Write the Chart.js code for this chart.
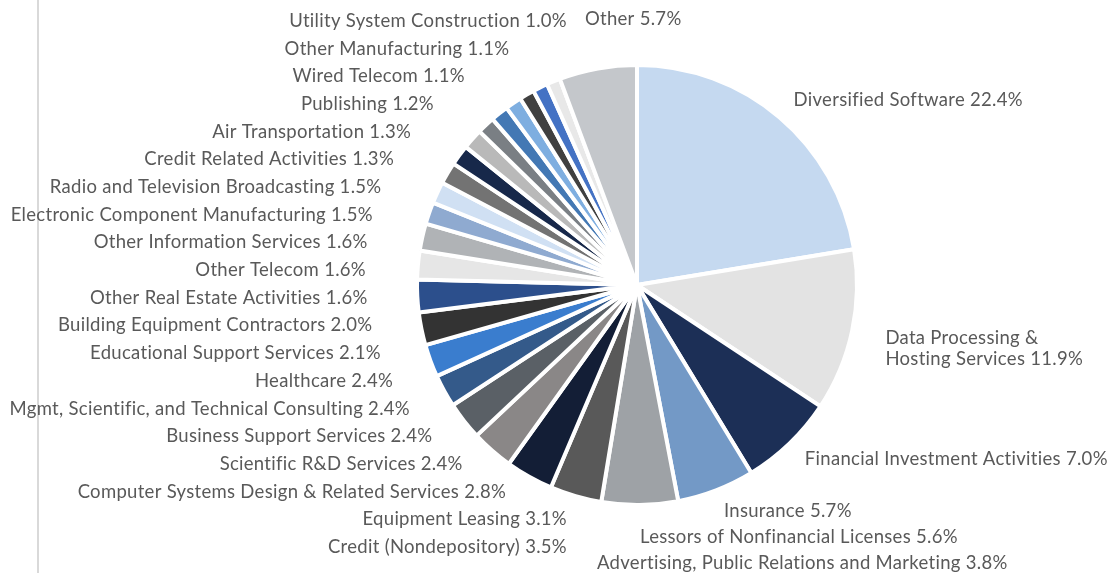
<!DOCTYPE html>
<html>
<head>
<meta charset="utf-8">
<title>Industry mix</title>
<script src="https://cdn.jsdelivr.net/npm/chart.js@4"></script>
<style>
  html, body { margin: 0; padding: 0; background: #fff; }
  #wrap { width: 1111px; height: 573px; }
</style>
</head>
<body>
<div id="wrap"><canvas id="pie" width="1111" height="573"></canvas></div>
<script>
// slices, clockwise from 12 o'clock
const categories = [
  "Diversified Software",
  ["Data Processing &", "Hosting Services"],
  "Financial Investment Activities",
  "Insurance",
  "Lessors of Nonfinancial Licenses",
  "Advertising, Public Relations and Marketing",
  "Credit (Nondepository)",
  "Equipment Leasing",
  "Computer Systems Design & Related Services",
  "Scientific R&D Services",
  "Business Support Services",
  "Mgmt, Scientific, and Technical Consulting",
  "Healthcare",
  "Educational Support Services",
  "Building Equipment Contractors",
  "Other Real Estate Activities",
  "Other Telecom",
  "Other Information Services",
  "Electronic Component Manufacturing",
  "Radio and Television Broadcasting",
  "Credit Related Activities",
  "Air Transportation",
  "Publishing",
  "Wired Telecom",
  "Other Manufacturing",
  "Utility System Construction",
  "Other",
];

const shares = [
  22.4, 11.9, 7.0, 5.7, 5.6, 3.8, 3.5, 3.1, 2.8, 2.4, 2.4, 2.4, 2.4,
  2.1, 2.0, 1.6, 1.6, 1.6, 1.5, 1.5, 1.3, 1.3, 1.2, 1.1, 1.1, 1.0, 5.7,
];

const sliceColors = [
  "#c5d9f0", "#e3e3e3", "#1c2f56", "#7399c6", "#9ea2a6", "#595959",
  "#131e36", "#8a8787", "#5a6066", "#345a8a", "#3a7dce", "#333333",
  "#2c4f8c", "#e6e6e6", "#b0b3b6", "#8faad0", "#d0e0f3", "#737373",
  "#17284a", "#b9b9b9", "#7a7f84", "#4378b4", "#7eaee0", "#404040",
  "#4472c4", "#e8e8e8", "#c4c7cb",
];

const textColor = "#595959";
const labelFont = "18.5px Lato";

const labelText = (i) => {
  const lines = Array.isArray(categories[i]) ? [...categories[i]] : [categories[i]];
  lines[lines.length - 1] += " " + shares[i].toFixed(1) + "%";
  return lines;
};

const sliceLabels = {
  id: "sliceLabels",
  beforeDraw(chart) {
    const ctx = chart.ctx;
    ctx.save();
    ctx.fillStyle = "#d9d9d9";
    ctx.fillRect(37, 0, 2, chart.height);
    ctx.restore();
  },
  afterDraw(chart) {
    const ctx = chart.ctx;
    const arcs = chart.getDatasetMeta(0).data;
    if (!arcs.length) return;
    const cx = arcs[0].x;
    const cy = arcs[0].y;
    const R = arcs[0].outerRadius;
    const lineH = 21;

    const items = arcs.map((arc, i) => {
      const mid = (arc.startAngle + arc.endAngle) / 2;
      const deg = (((mid + Math.PI / 2) * 180) / Math.PI + 360) % 360;
      return { mid, deg, lines: labelText(i) };
    });

    ctx.save();
    ctx.font = labelFont;
    ctx.letterSpacing = "0.3px";
    ctx.fillStyle = textColor;
    ctx.textBaseline = "middle";

    // y is the middle of the first line
    const drawLines = (it, x, y, align) => {
      ctx.textAlign = align;
      it.lines.forEach((ln, k) => ctx.fillText(ln, x, y + k * lineH));
    };

    // left column: evenly spaced, right edge on an ellipse round the pie
    const yTop = 21;
    const yBot = chart.height - 26;
    const left = items.filter((it) => it.deg > 200 && it.deg < 345).sort((a, b) => b.deg - a.deg);
    const step = left.length > 1 ? (yBot - yTop) / (left.length - 1) : 0;
    const rx = R + 51;
    const ry = R + 32;
    const ey = cy - 14;
    left.forEach((it, k) => {
      const y = yTop + k * step;
      const t = (y - ey) / ry;
      const half = Math.max(rx * Math.sqrt(Math.max(1 - t * t, 0)), 70);
      drawLines(it, cx - half, y, "right");
    });

    // top label
    items.filter((it) => it.deg >= 345).forEach((it) => {
      const r = R + 50;
      drawLines(it, cx + Math.cos(it.mid) * r - 4, cy + Math.sin(it.mid) * r, "left");
    });

    // right side: natural spot, pushed down when crowded
    const right = items.filter((it) => it.deg <= 200).sort((a, b) => a.deg - b.deg);
    let prevBottom = -Infinity;
    right.forEach((it) => {
      const r = it.lines.length > 1 ? R + 34 : R + 22;
      const x = Math.max(cx + Math.cos(it.mid) * r, cx - 40);
      const h = it.lines.length * lineH;
      let y = cy + Math.sin(it.mid) * r;
      if (y - lineH / 2 < prevBottom + 5) y = prevBottom + 5 + lineH / 2;
      prevBottom = y - lineH / 2 + h;
      drawLines(it, x, y, "left");
    });
    ctx.restore();
  },
};

new Chart(document.getElementById("pie"), {
  type: "pie",
  data: {
    labels: categories,
    datasets: [{
      data: shares,
      backgroundColor: sliceColors,
      borderColor: "#ffffff",
      borderWidth: 4,
    }],
  },
  options: {
    responsive: false,
    animation: false,
    layout: { padding: { top: 63, bottom: 66, left: 415, right: 252 } },
    plugins: {
      legend: { display: false },
      tooltip: { enabled: false },
    },
  },
  plugins: [sliceLabels],
});
</script>
</body>
</html>
